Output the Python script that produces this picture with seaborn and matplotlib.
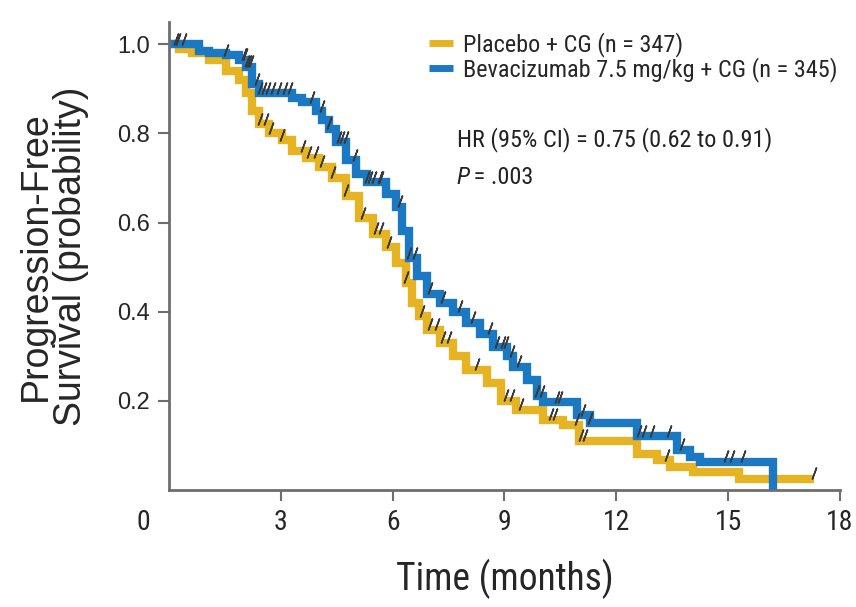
import numpy as np
import matplotlib
matplotlib.use("Agg")
import matplotlib.pyplot as plt
import matplotlib.transforms as mtransforms
from matplotlib import font_manager
import seaborn as sns

# Kaplan-Meier curves (months, survival probability)
placebo_t = [0.0, 0.27, 0.62, 1.08, 1.53, 1.88, 2.07, 2.23, 2.42, 2.69, 3.04, 3.31, 3.68,
             4.03, 4.38, 4.76, 5.11, 5.46, 5.83, 6.10, 6.37, 6.53, 6.72, 6.91, 7.26,
             7.61, 7.98, 8.52, 8.9, 9.3, 10.03, 10.56, 11.0, 12.55, 13.1, 13.44, 14.06,
             15.3, 17.3]
placebo_s = [1.0, 0.99, 0.98, 0.965, 0.94, 0.92, 0.89, 0.85, 0.82, 0.80, 0.785, 0.76, 0.745,
             0.725, 0.70, 0.66, 0.61, 0.575, 0.545, 0.51, 0.465, 0.42, 0.39, 0.36, 0.33,
             0.30, 0.27, 0.24, 0.20, 0.18, 0.157, 0.146, 0.11, 0.08, 0.067, 0.052, 0.04,
             0.025, 0.025]

bev_t = [0.0, 0.81, 1.08, 1.53, 1.88, 2.07, 2.23, 2.42, 3.31, 3.58, 3.95, 4.11, 4.30,
         4.49, 4.76, 5.03, 5.30, 5.83, 6.10, 6.26, 6.45, 6.64, 6.91, 7.26, 7.61, 7.98,
         8.33, 8.68, 9.06, 9.22, 9.6, 9.87, 10.03, 10.94, 11.29, 12.55, 13.63, 13.98,
         14.25, 16.2]
bev_s = [1.0, 0.985, 0.98, 0.975, 0.965, 0.95, 0.91, 0.89, 0.88, 0.87, 0.85, 0.83, 0.81,
         0.78, 0.74, 0.71, 0.69, 0.665, 0.635, 0.58, 0.52, 0.48, 0.44, 0.42, 0.40, 0.375,
         0.35, 0.32, 0.30, 0.276, 0.247, 0.21, 0.197, 0.168, 0.15, 0.12, 0.09, 0.074,
         0.063, 0.0]

# censoring times (months)
placebo_cens = [0.2, 2.45, 2.6, 2.75, 3.04, 3.6, 3.75, 3.95, 4.1, 4.4, 4.76, 5.2, 5.55,
                5.7, 5.9, 6.37, 6.8, 7.0, 7.2, 7.35, 7.5, 8.25, 9.05, 9.2, 9.45, 10.25,
                10.35, 10.95, 11.05, 11.15, 13.35, 17.3]
bev_cens = [0.25, 0.4, 1.53, 2.0, 2.05, 2.1, 2.15, 2.2, 2.35, 2.45, 2.55, 2.65, 2.8, 2.95,
            3.1, 3.25, 3.85, 4.1, 4.3, 4.55, 4.65, 4.75, 5.0, 5.3, 5.4, 5.5, 5.65, 5.7,
            6.2, 6.45, 6.6, 7.0, 7.35, 7.8, 8.15, 8.6, 8.8, 8.95, 9.05, 9.2, 9.4, 9.87,
            10.0, 10.4, 10.5, 11.1, 11.3, 12.6, 12.75, 12.95, 13.4, 13.75, 14.95, 15.1,
            15.4]

labels = ["Placebo + CG (n = 347)", "Bevacizumab 7.5 mg/kg + CG (n = 345)"]
x_ticks = [3, 6, 9, 12, 15, 18]
y_ticks = [0.2, 0.4, 0.6, 0.8, 1.0]

yellow = "#E6B422"
blue = "#1B78C2"
axis_grey = "#6e6e6e"

sns.set_style("ticks")
plt.rcParams["font.family"] = ["Liberation Sans", "DejaVu Sans"]


# look for a condensed sans face, the reference uses a narrow type
def find_narrow(style="normal"):
    prefs = ["Liberation Sans Narrow", "Roboto Condensed", "Open Sans Condensed",
             "Noto Sans", "DejaVu Sans", "Roboto", "Open Sans"]
    found = []
    for f in font_manager.fontManager.ttflist:
        narrowish = ("Narrow" in f.name or "Condensed" in f.name
                     or f.stretch in ("condensed", "semi-condensed", 75, 87.5))
        if narrowish and f.style == style and f.weight in (400, "normal", "regular"):
            base = next((p for p in prefs if f.name.startswith(p)), None)
            rank = prefs.index(base) if base else len(prefs)
            found.append((rank, f.fname))
    if found:
        found.sort()
        return font_manager.FontProperties(fname=found[0][1])
    return font_manager.FontProperties(family="Liberation Sans", style=style)


narrow = find_narrow()
narrow_it = find_narrow("italic")


def nfont(size, base=narrow):
    fp = base.copy()
    fp.set_size(size)
    return fp


fig = plt.figure(figsize=(8.56, 6.07), dpi=100)
ax = fig.add_axes([0.1974, 0.1928, 0.7839, 0.771])


def step_at(times, surv, t):
    idx = np.searchsorted(times, t, side="right") - 1
    return np.asarray(surv)[idx]


for t, s, c, lab in [(placebo_t, placebo_s, yellow, labels[0]),
                     (bev_t, bev_s, blue, labels[1])]:
    sns.lineplot(x=t, y=s, ax=ax, color=c, linewidth=6, drawstyle="steps-post",
                 estimator=None, sort=False, label=lab,
                 solid_joinstyle="miter", solid_capstyle="butt")

# censor ticks sit just above the curve
lift = mtransforms.offset_copy(ax.transData, fig=fig, x=0, y=4, units="points")
for t, s, cens in [(placebo_t, placebo_s, placebo_cens), (bev_t, bev_s, bev_cens)]:
    cy = [step_at(t, s, c) for c in cens]
    ax.plot(cens, cy, linestyle="none", marker=(2, 2, -20), markersize=9,
            markeredgewidth=1.1, markeredgecolor="#3a3a3a", transform=lift, zorder=5)

ax.set_xlim(0, 18)
ax.set_ylim(0, 1.05)
ax.set_xticks(x_ticks)
ax.set_xticklabels([str(v) for v in x_ticks])
for lbl in ax.get_xticklabels():
    lbl.set_fontproperties(nfont(20))
ax.set_yticks(y_ticks)
ax.set_yticklabels([f"{v:.1f}" for v in y_ticks], fontsize=17)
ax.tick_params(length=8, width=1.5, color=axis_grey, pad=6)
ax.text(-0.7, -0.074, "0", ha="center", va="center", fontproperties=nfont(20),
        clip_on=False)

for side in ["top", "right"]:
    ax.spines[side].set_visible(False)
for side in ["left", "bottom"]:
    ax.spines[side].set_color(axis_grey)
    ax.spines[side].set_linewidth(2)

ax.set_xlabel("Time (months)", fontproperties=nfont(27), labelpad=16)
ax.set_ylabel("Progression-Free\nSurvival (probability)", fontsize=27, labelpad=20,
              linespacing=0.95)

leg = ax.legend(loc="upper left", bbox_to_anchor=(0.355, 1.025), frameon=False,
                handlelength=1.0, handletextpad=0.4, labelspacing=0.0,
                prop=nfont(17.5))
for h in leg.get_lines():
    h.set_linewidth(5)

ax.text(0.429, 0.748, "HR (95% CI) = 0.75 (0.62 to 0.91)", transform=ax.transAxes,
        fontproperties=nfont(17.5), va="center", color="#222222")
ax.text(0.429, 0.668, "P", transform=ax.transAxes, fontproperties=nfont(17.5, narrow_it),
        va="center", color="#222222")
ax.text(0.446, 0.668, " = .003", transform=ax.transAxes, fontproperties=nfont(17.5),
        va="center", color="#222222")

fig.savefig("out.png", dpi=100)
